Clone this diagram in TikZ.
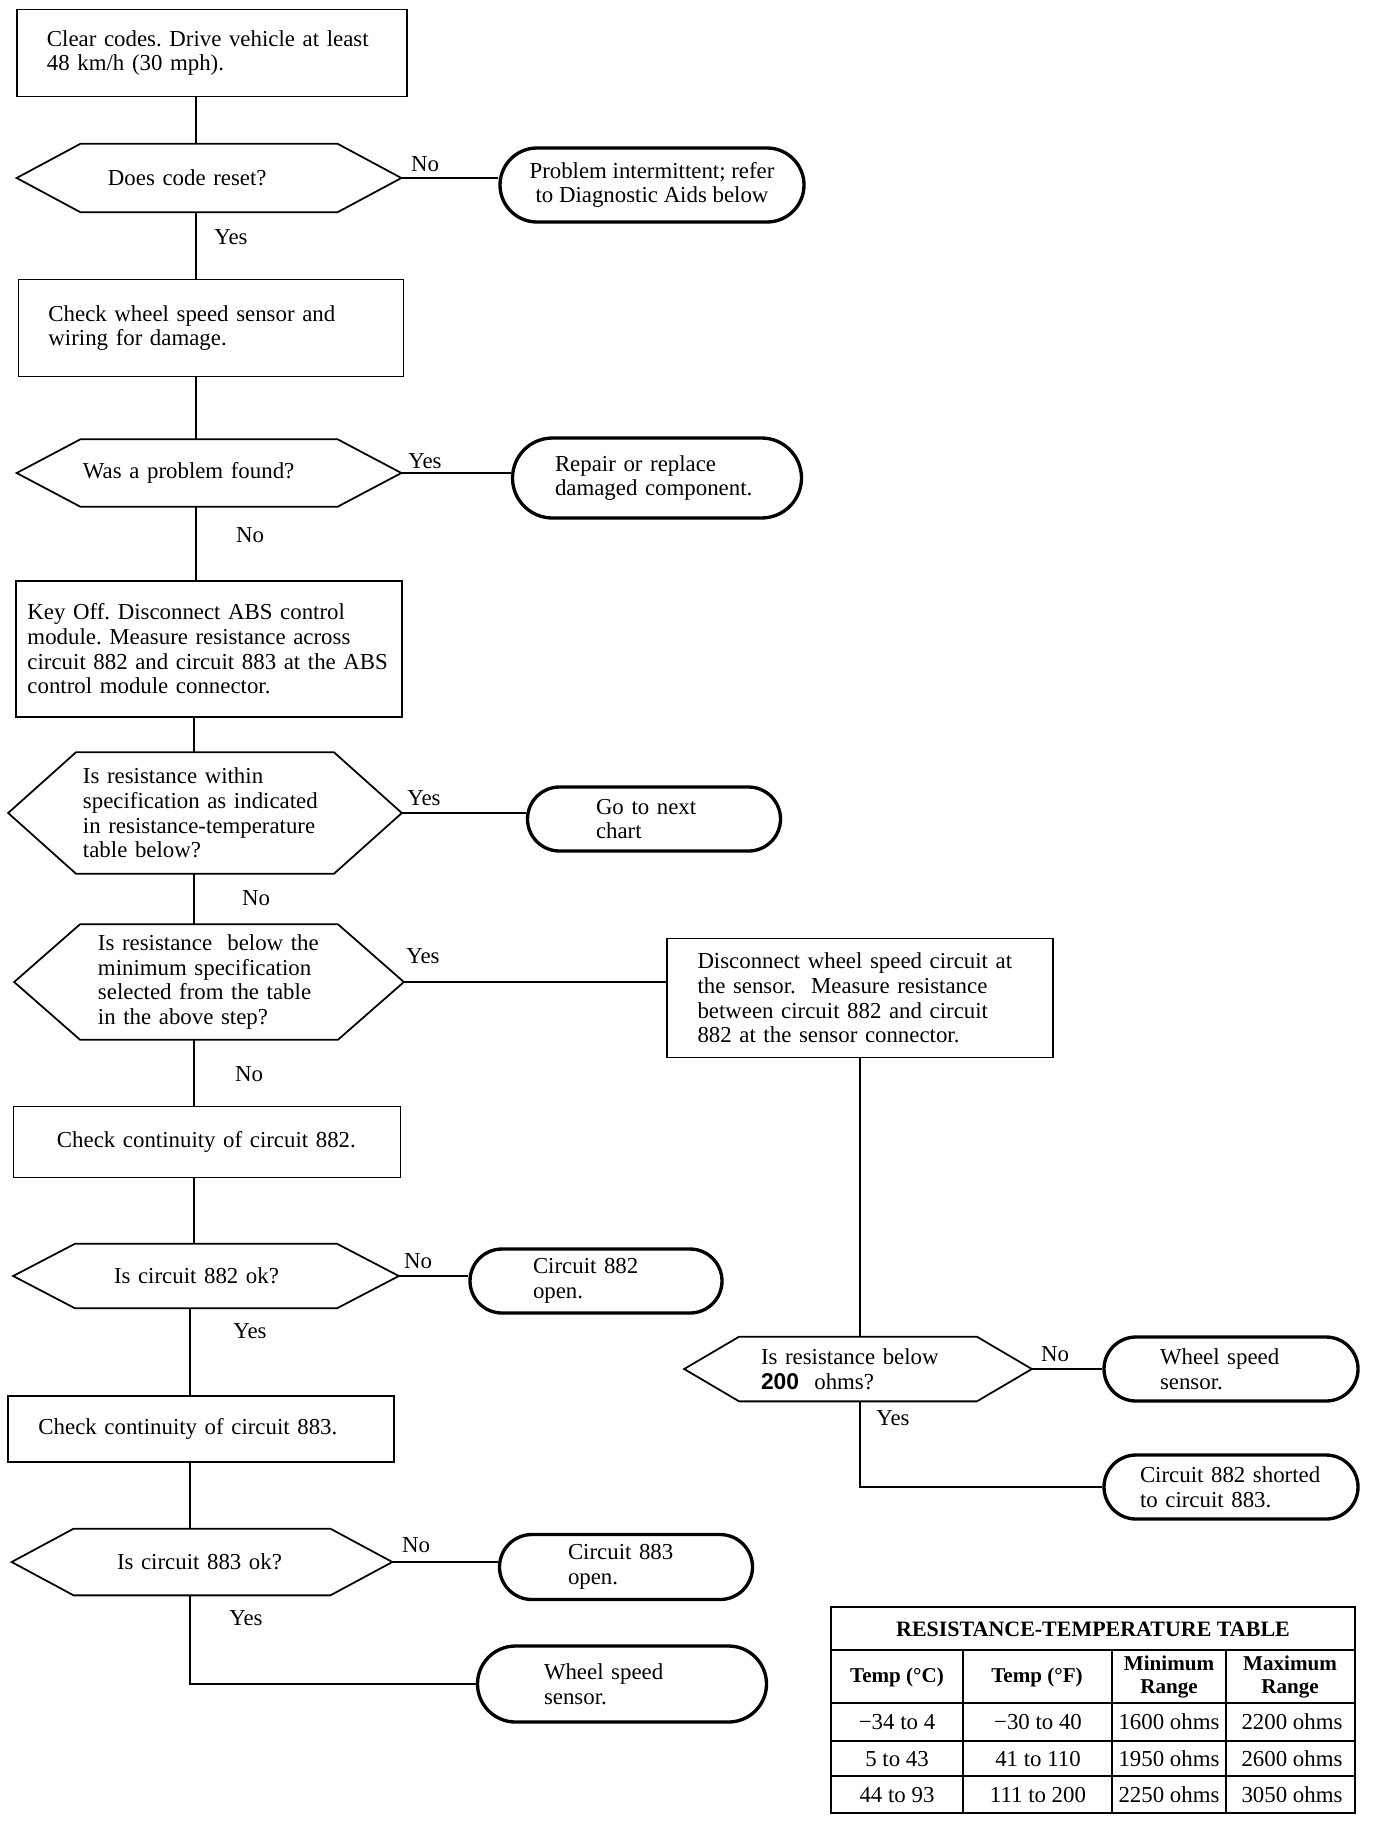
\documentclass[tikz,border=0pt]{standalone}
\usepackage{fontspec}
\setmainfont{Liberation Serif}
\setsansfont{Liberation Sans}
\usetikzlibrary{calc, positioning}

\begin{document}
\begin{tikzpicture}[x=0.2mm, y=-0.2mm,
        every node/.style={font=\fontsize{13}{14}\selectfont\frenchspacing},
        stepbox/.style={draw, line width=0.8pt, inner sep=0pt, align=left},
        askbox/.style={inner sep=0pt, align=left},
        endbox/.style={draw, line width=1.9pt, inner sep=0pt, align=left},
        hexline/.style={line width=1pt},
        wire/.style={line width=0.6pt},
        answer/.style={inner sep=0pt}]
        \useasboundingbox (0,0) rectangle (1376,1822);

        % --- Main column ---
        \node[stepbox, minimum width=78mm, minimum height=17.4mm, text width=66mm] (clear) at (212,53)
            {Clear codes. Drive vehicle at least\\48 km/h (30 mph).};
        \node[askbox, minimum width=76.8mm, minimum height=13.6mm, text width=40.4mm] (reset) at (209,178)
            {Does code reset?};
        \node[stepbox, minimum width=77mm, minimum height=19.4mm, text width=65mm] (wiring) at (211,328)
            {Check wheel speed sensor and\\wiring for damage.};
        \node[askbox, minimum width=76.8mm, minimum height=13.4mm, text width=50.4mm] (found) at (209,473)
            {Was a problem found?};
        \node[stepbox, minimum width=77.2mm, minimum height=27.2mm, text width=72.6mm] (keyoff) at (209,649)
            {Key Off. Disconnect ABS control\\module. Measure resistance across\\circuit 882 and circuit 883 at the ABS\\control module connector.};
        \node[askbox, minimum width=78.6mm, minimum height=24.2mm, text width=48.8mm] (within) at (205,813)
            {Is resistance within\\specification as indicated\\in resistance-temperature\\table below?};
        \node[askbox, minimum width=77.8mm, minimum height=23mm, text width=44.4mm] (below) at (209,982)
            {Is resistance\ \ below the\\minimum specification\\selected from the table\\in the above step?};
        \node[stepbox, minimum width=77.4mm, minimum height=14.2mm, text width=60mm] (cont882) at (207,1142)
            {Check continuity of circuit 882.};
        \node[askbox, minimum width=77mm, minimum height=12.8mm, text width=36.8mm] (ok882) at (206,1276)
            {Is circuit 882 ok?};
        \node[stepbox, minimum width=77.2mm, minimum height=13.2mm, text width=65mm] (cont883) at (201,1429)
            {Check continuity of circuit 883.};
        \node[askbox, minimum width=76mm, minimum height=13.2mm, text width=34mm] (ok883) at (202,1562)
            {Is circuit 883 ok?};

        % --- Right column ---
        \node[stepbox, minimum width=77.2mm, minimum height=23.8mm, text width=65mm] (sensorside) at (860,998)
            {Disconnect wheel speed circuit at\\the sensor.\ \ Measure resistance\\between circuit 882 and circuit\\882 at the sensor connector.};
        \node[askbox, minimum width=69.4mm, minimum height=12.8mm, text width=38.8mm] (under200) at (858,1369)
            {Is resistance below\\\textsf{\textbf{200}}\ \ ohms?};

        % --- End points ---
        \node[endbox, minimum width=60.8mm, minimum height=14.8mm, rounded corners=7.4mm, align=center] (intermit) at (652,185)
            {Problem intermittent; refer\\to Diagnostic Aids below};
        \node[endbox, minimum width=57.8mm, minimum height=16mm, rounded corners=8mm, text width=40.8mm] (repair) at (657,478)
            {Repair or replace\\damaged component.};
        \node[endbox, minimum width=50.6mm, minimum height=12.8mm, rounded corners=6.4mm, text width=23.2mm] (nextchart) at (654,819)
            {Go to next\\chart};
        \node[endbox, minimum width=50.4mm, minimum height=12.8mm, rounded corners=6.4mm, text width=25.2mm] (open882) at (596,1281)
            {Circuit 882\\open.};
        \node[endbox, minimum width=50.6mm, minimum height=13mm, rounded corners=6.5mm, text width=23.2mm] (open883) at (626,1567)
            {Circuit 883\\open.};
        \node[endbox, minimum width=57.8mm, minimum height=15.2mm, rounded corners=7.6mm, text width=31.2mm] (wssA) at (622,1684)
            {Wheel speed\\sensor.};
        \node[endbox, minimum width=50.8mm, minimum height=12.8mm, rounded corners=6.4mm, text width=28.4mm] (wssB) at (1231,1369)
            {Wheel speed\\sensor.};
        \node[endbox, minimum width=50.8mm, minimum height=12.8mm, rounded corners=6.4mm, text width=36.4mm] (shorted) at (1231,1487)
            {Circuit 882 shorted\\to circuit 883.};

        % --- Hexagon outlines ---
        \foreach \n/\c in {reset/64, found/64, within/68, below/66, ok882/62, ok883/62, under200/55}
            \draw[hexline] (\n.west) -- ($(\n.north west)+(\c,0)$) -- ($(\n.north east)-(\c,0)$)
                -- (\n.east) -- ($(\n.south east)-(\c,0)$) -- ($(\n.south west)+(\c,0)$) -- cycle;

        % --- Connectors ---
        \coordinate (spineA) at (196,0);
        \coordinate (spineB) at (194,0);
        \coordinate (spineC) at (190,0);
        \draw[wire] (clear.south -| spineA) -- (reset.north -| spineA);
        \draw[wire] (reset.south -| spineA) -- (wiring.north -| spineA);
        \draw[wire] (wiring.south -| spineA) -- (found.north -| spineA);
        \draw[wire] (found.south -| spineA) -- (keyoff.north -| spineA);
        \draw[wire] (keyoff.south -| spineB) -- (within.north -| spineB);
        \draw[wire] (within.south -| spineB) -- (below.north -| spineB);
        \draw[wire] (below.south -| spineB) -- (cont882.north -| spineB);
        \draw[wire] (cont882.south -| spineB) -- (ok882.north -| spineB);
        \draw[wire] (ok882.south -| spineC) -- (cont883.north -| spineC);
        \draw[wire] (cont883.south -| spineC) -- (ok883.north -| spineC);
        \draw[wire] (ok883.south -| spineC) |- (wssA.west);

        \draw[wire] (reset.east) -- (reset.east -| intermit.west);
        \draw[wire] (found.east) -- (found.east -| repair.west);
        \draw[wire] (within.east) -- (within.east -| nextchart.west);
        \draw[wire] (below.east) -- (below.east -| sensorside.west);
        \draw[wire] (ok882.east) -- (ok882.east -| open882.west);
        \draw[wire] (ok883.east) -- (ok883.east -| open883.west);
        \draw[wire] (sensorside.south) -- (under200.north -| sensorside.south);
        \draw[wire] (under200.east) -- (under200.east -| wssB.west);
        \draw[wire] (under200.south -| sensorside.south) |- (shorted.west);

        % --- Yes / No labels ---
        \node[answer] (noA)  at (425,164)  {No};
        \node[answer] (yesA) at (231,237)  {Yes};
        \node[answer] (yesB) at (425,461)  {Yes};
        \node[answer] (noB)  at (250,535)  {No};
        \node[answer] (yesC) at (424,798)  {Yes};
        \node[answer] (noC)  at (256,898)  {No};
        \node[answer] (yesD) at (423,956)  {Yes};
        \node[answer] (noD)  at (249,1074) {No};
        \node[answer] (noE)  at (418,1261) {No};
        \node[answer] (yesE) at (250,1331) {Yes};
        \node[answer] (noF)  at (416,1545) {No};
        \node[answer] (yesF) at (246,1618) {Yes};
        \node[answer] (noG)  at (1055,1354) {No};
        \node[answer] (yesG) at (893,1418) {Yes};

        % --- Resistance-temperature table ---
        \draw[line width=1.3pt] (831,1607) rectangle (1355,1813);
        \foreach \y in {1650,1703,1741,1776}
            \draw[line width=1pt] (831,\y) -- (1355,\y);
        \foreach \x in {963,1112,1226}
            \draw[line width=1pt] (\x,1650) -- (\x,1813);
        \node[font=\fontsize{12.5}{14}\selectfont\bfseries] (tabtitle) at (1093,1629)
            {RESISTANCE-TEMPERATURE TABLE};
        \foreach \x/\t [count=\i] in {897/{Temp (°C)}, 1037/{Temp (°F)}, 1169/{Minimum\\Range}, 1290/{Maximum\\Range}}
            \node[font=\fontsize{12}{13}\selectfont\bfseries, align=center] (head\i) at (\x,1677) {\t};
        \foreach \y/\a/\b/\c/\d [count=\r] in {1722/−34 to 4/−30 to 40/1600 ohms/2200 ohms,
                                               1759/5 to 43/41 to 110/1950 ohms/2600 ohms,
                                               1795/44 to 93/111 to 200/2250 ohms/3050 ohms}{
            \node (cellC\r) at (897,\y)  {\a};
            \node (cellF\r) at (1038,\y) {\b};
            \node (cellMin\r) at (1169,\y) {\c};
            \node (cellMax\r) at (1292,\y) {\d};
        }
    \end{tikzpicture}
\end{document}
